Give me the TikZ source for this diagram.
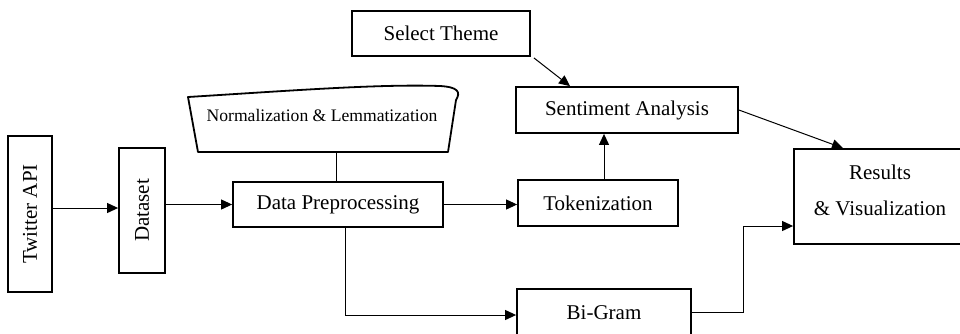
\documentclass[tikz,border=0pt]{standalone}
\usepackage{fontspec}
\setmainfont{Liberation Serif}
\usetikzlibrary{arrows.meta,calc}

\begin{document}
\begin{tikzpicture}[x=1pt,y=-1pt,
  box/.style={draw,line width=1.8pt,inner sep=0pt,
    font=\fontsize{21}{25}\selectfont},
  link/.style={line width=1pt},
  arr/.style={link,-{Triangle[length=11pt,width=10pt]}}]
\useasboundingbox (0,0) rectangle (960,333);
\clip (0,0) rectangle (960,333);

% process boxes
\node[box,minimum width=44pt,minimum height=156pt] (tw) at (30,214) {\rotatebox{90}{Twitter API}};
\node[box,minimum width=46pt,minimum height=125pt] (ds) at (142,210.5) {\rotatebox{90}{Dataset}};
\node[box,minimum width=210pt,minimum height=45pt] (dp) at (338,204.5) {Data Preprocessing};
\node[box,minimum width=160pt,minimum height=46pt] (tok) at (598,203) {Tokenization};
\node[box,minimum width=222pt,minimum height=46pt] (sent) at (627,110) {Sentiment Analysis};
\node[box,minimum width=178pt,minimum height=45pt] (theme) at (441,33.5) {Select Theme};
\node[box,minimum width=174pt,minimum height=47pt] (bigram) at (604,312.5) {Bi-Gram};
\node[box,minimum width=172pt,minimum height=95pt] (res) at (880,196.5) {};
\node[align=center,font=\fontsize{21}{36}\selectfont] (restext) at (880,190) {Results\\\& Visualization};

% manual-input style shape for the normalisation step
\draw[line width=1.8pt,line join=round]
  (188,97) .. controls (300,90) and (380,84) .. (440,86)
  .. controls (458,87) and (461,92) .. (456,100)
  -- (448,152) -- (198,152) -- cycle;
\node[font=\fontsize{17.6}{20}\selectfont] (norm) at (322,115) {Normalization \& Lemmatization};
\coordinate (normb) at (336,152);

% connectors
\draw[link] (normb) -- (normb |- dp.north);
\draw[arr] ([yshift=6pt]tw.east) -- ([yshift=6pt]tw.east -| ds.west);
\draw[arr] (ds.east |- dp.west) -- (dp.west);
\draw[arr] (dp.east) -- (dp.east -| tok.west);
\draw[arr] ([xshift=6pt]tok.north) -- ([xshift=6pt]tok.north |- sent.south);
\draw[arr] ($(theme.south east)+(3,1)$) -- ([xshift=-57pt]sent.north);
\draw[arr] (sent.east) -- ([xshift=-37pt]res.north);
\draw[arr] ([xshift=7pt]dp.south) |- ([yshift=-2.5pt]bigram.west);
\draw[arr] (bigram.east) -- ++(52,0) |- ([yshift=-29.5pt]res.west);
\end{tikzpicture}
\end{document}
